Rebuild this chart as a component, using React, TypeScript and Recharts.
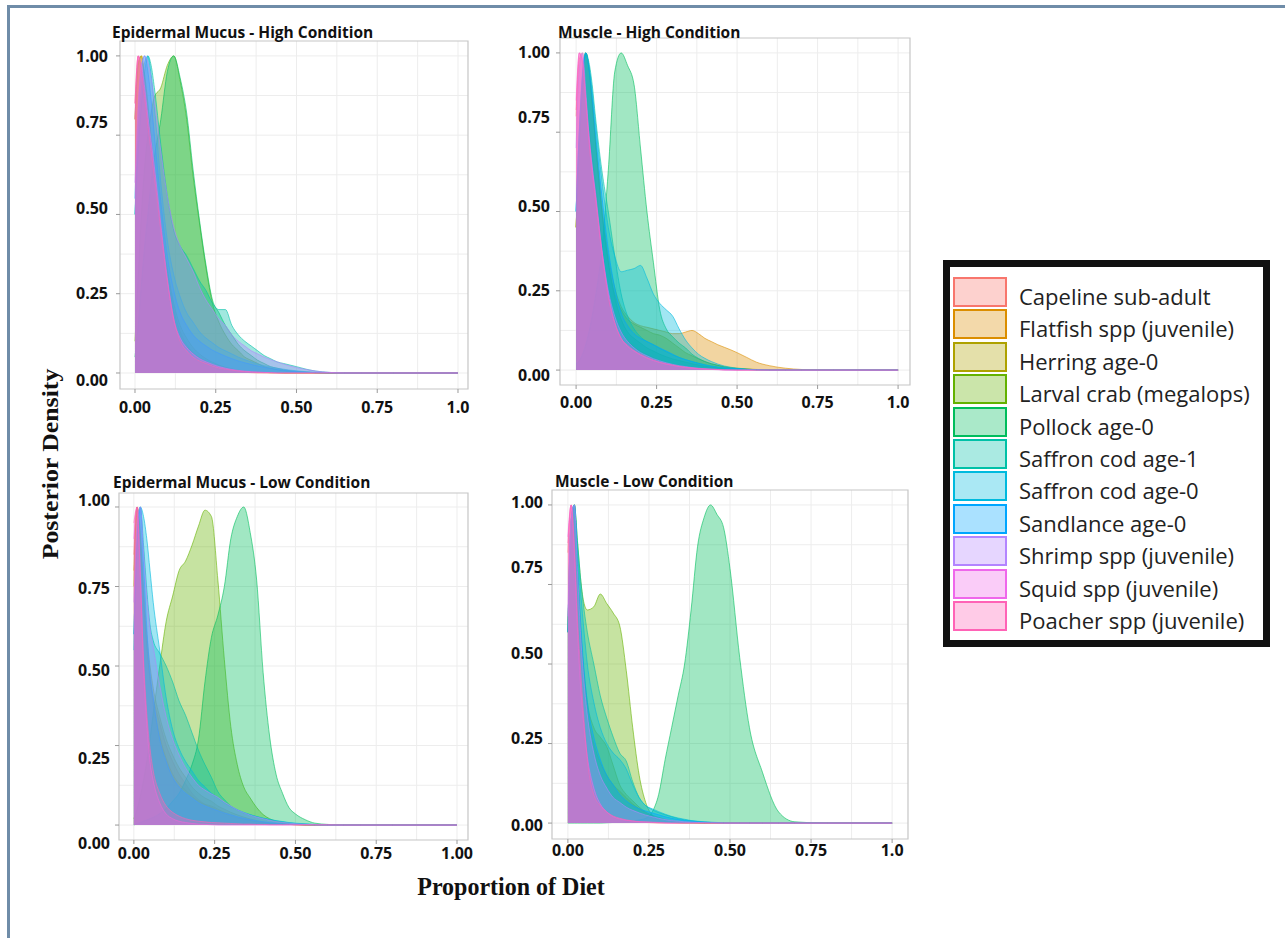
import React from 'react'
import { AreaChart, Area, XAxis, YAxis, CartesianGrid, ReferenceArea } from 'recharts'

// prey sources, in plotting order (last one is drawn on top)
const species = [
  'Capeline sub-adult',
  'Flatfish spp (juvenile)',
  'Herring age-0',
  'Larval crab (megalops)',
  'Pollock age-0',
  'Saffron cod age-1',
  'Saffron cod age-0',
  'Sandlance age-0',
  'Shrimp spp (juvenile)',
  'Squid spp (juvenile)',
  'Poacher spp (juvenile)',
]
const speciesColors = ['#F8766D', '#DB8E00', '#AEA200', '#64B200', '#00BD5C', '#00C1A7', '#00BADE', '#00A6FF', '#B385FF', '#EF67EB', '#FF63B6']

// proportion of diet (x) where the scaled densities were read
const xs = [
  0, 0.01, 0.02, 0.03, 0.04, 0.05, 0.06,
  0.08, 0.1, 0.12, 0.14, 0.16, 0.18, 0.2,
  0.22, 0.24, 0.26, 0.28, 0.3,
  0.32, 0.34, 0.36, 0.38, 0.4,
  0.42, 0.44, 0.46, 0.48, 0.5,
  0.53, 0.56, 0.6, 0.65, 0.7,
  0.8, 1,
]

const xTicks = [0, 0.25, 0.5, 0.75, 1]
const yTicks = [0, 0.25, 0.5, 0.75, 1]
const yTickLabels = ['0.00', '0.25', '0.50', '0.75', '1.00']
const xTickLabelsShort = ['0.00', '0.25', '0.50', '0.75', '1.0']
const xTickLabelsLong = ['0.00', '0.25', '0.50', '0.75', '1.00']
const gridSteps = [0, 0.125, 0.25, 0.375, 0.5, 0.625, 0.75, 0.875, 1]

// Epidermal mucus - high condition (one row per species, same order as `species`)
const mucusHigh = [
  [0.85, 1, 0.96, 0.86, 0.76, 0.66, 0.56, 0.4, 0.27, 0.17, 0.11, 0.07, 0.05, 0.035, 0.025, 0.018, 0.012, 0.008, 0.005, 0.003, 0.002, 0.001, 0, 0, 0, 0, 0, 0, 0, 0, 0, 0, 0, 0, 0, 0],
  [0.8, 0.98, 1, 0.92, 0.82, 0.72, 0.62, 0.45, 0.31, 0.2, 0.13, 0.09, 0.065, 0.048, 0.036, 0.027, 0.02, 0.015, 0.011, 0.008, 0.006, 0.004, 0.003, 0.002, 0.001, 0.001, 0, 0, 0, 0, 0, 0, 0, 0, 0, 0],
  [0.8, 0.97, 1, 0.94, 0.85, 0.74, 0.64, 0.47, 0.33, 0.22, 0.15, 0.11, 0.08, 0.06, 0.045, 0.034, 0.025, 0.018, 0.013, 0.009, 0.006, 0.004, 0.003, 0.002, 0.001, 0.001, 0, 0, 0, 0, 0, 0, 0, 0, 0, 0],
  [0.1, 0.3, 0.5, 0.65, 0.75, 0.82, 0.87, 0.9, 0.97, 1, 0.92, 0.8, 0.62, 0.47, 0.33, 0.22, 0.16, 0.12, 0.09, 0.07, 0.05, 0.04, 0.03, 0.02, 0.015, 0.01, 0.007, 0.005, 0.003, 0.002, 0.001, 0, 0, 0, 0, 0],
  [0.05, 0.15, 0.28, 0.4, 0.5, 0.6, 0.68, 0.8, 0.95, 1, 0.93, 0.82, 0.64, 0.48, 0.34, 0.23, 0.19, 0.15, 0.12, 0.09, 0.07, 0.055, 0.04, 0.03, 0.02, 0.015, 0.01, 0.007, 0.005, 0.003, 0.001, 0, 0, 0, 0, 0],
  [0.5, 0.7, 0.85, 0.95, 1, 0.97, 0.9, 0.72, 0.56, 0.45, 0.4, 0.37, 0.33, 0.29, 0.26, 0.22, 0.2, 0.2, 0.15, 0.12, 0.1, 0.085, 0.07, 0.055, 0.045, 0.035, 0.03, 0.025, 0.02, 0.012, 0.006, 0.002, 0, 0, 0, 0],
  [0.5, 0.75, 0.9, 0.98, 1, 0.94, 0.84, 0.6, 0.42, 0.31, 0.24, 0.19, 0.16, 0.13, 0.11, 0.095, 0.08, 0.07, 0.06, 0.05, 0.042, 0.035, 0.028, 0.023, 0.019, 0.015, 0.012, 0.009, 0.007, 0.004, 0.002, 0.001, 0, 0, 0, 0],
  [0.55, 0.82, 0.96, 1, 0.95, 0.86, 0.75, 0.54, 0.37, 0.26, 0.19, 0.15, 0.12, 0.1, 0.085, 0.072, 0.062, 0.053, 0.045, 0.038, 0.032, 0.027, 0.022, 0.018, 0.014, 0.011, 0.008, 0.006, 0.004, 0.002, 0.001, 0, 0, 0, 0, 0],
  [0.6, 0.85, 0.97, 1, 0.98, 0.93, 0.86, 0.7, 0.56, 0.46, 0.4, 0.36, 0.32, 0.27, 0.23, 0.2, 0.17, 0.15, 0.12, 0.1, 0.085, 0.07, 0.06, 0.05, 0.042, 0.035, 0.028, 0.022, 0.017, 0.011, 0.006, 0.002, 0, 0, 0, 0],
  [0.8, 1, 0.97, 0.9, 0.81, 0.73, 0.65, 0.47, 0.3, 0.17, 0.11, 0.08, 0.06, 0.045, 0.035, 0.027, 0.02, 0.015, 0.011, 0.008, 0.006, 0.004, 0.003, 0.002, 0.001, 0, 0, 0, 0, 0, 0, 0, 0, 0, 0, 0],
  [0.85, 1, 0.95, 0.87, 0.78, 0.7, 0.62, 0.45, 0.29, 0.17, 0.1, 0.07, 0.05, 0.038, 0.03, 0.022, 0.016, 0.012, 0.009, 0.006, 0.004, 0.003, 0.002, 0.001, 0.001, 0, 0, 0, 0, 0, 0, 0, 0, 0, 0, 0],
]

// Muscle - high condition
const muscleHigh = [
  [0.8, 0.98, 1, 0.9, 0.78, 0.68, 0.6, 0.4, 0.25, 0.16, 0.12, 0.095, 0.075, 0.06, 0.05, 0.04, 0.032, 0.025, 0.02, 0.016, 0.012, 0.009, 0.006, 0.004, 0.003, 0.002, 0.001, 0.001, 0, 0, 0, 0, 0, 0, 0, 0],
  [0.45, 0.7, 0.9, 1, 0.95, 0.85, 0.73, 0.52, 0.36, 0.26, 0.2, 0.17, 0.15, 0.14, 0.135, 0.13, 0.125, 0.12, 0.115, 0.115, 0.12, 0.125, 0.115, 0.1, 0.09, 0.08, 0.072, 0.064, 0.055, 0.04, 0.025, 0.014, 0.006, 0.002, 0, 0],
  [0.45, 0.7, 0.9, 1, 0.95, 0.84, 0.72, 0.5, 0.34, 0.24, 0.19, 0.16, 0.145, 0.135, 0.125, 0.115, 0.11, 0.1, 0.085, 0.07, 0.055, 0.045, 0.035, 0.027, 0.02, 0.015, 0.011, 0.008, 0.006, 0.004, 0.002, 0.001, 0, 0, 0, 0],
  [0.45, 0.7, 0.9, 1, 0.95, 0.84, 0.72, 0.5, 0.34, 0.23, 0.16, 0.12, 0.1, 0.085, 0.07, 0.06, 0.05, 0.042, 0.035, 0.03, 0.025, 0.02, 0.016, 0.012, 0.009, 0.007, 0.005, 0.004, 0.003, 0.002, 0.001, 0, 0, 0, 0, 0],
  [0.02, 0.03, 0.05, 0.08, 0.12, 0.17, 0.23, 0.38, 0.63, 0.94, 1, 0.96, 0.9, 0.7, 0.5, 0.34, 0.19, 0.13, 0.105, 0.085, 0.07, 0.05, 0.037, 0.027, 0.02, 0.015, 0.01, 0.007, 0.005, 0.003, 0.001, 0, 0, 0, 0, 0],
  [0.5, 0.75, 0.93, 1, 0.97, 0.9, 0.8, 0.63, 0.5, 0.36, 0.24, 0.17, 0.13, 0.105, 0.09, 0.08, 0.068, 0.058, 0.048, 0.04, 0.033, 0.027, 0.022, 0.017, 0.013, 0.01, 0.007, 0.005, 0.004, 0.002, 0.001, 0, 0, 0, 0, 0],
  [0.5, 0.75, 0.92, 1, 0.96, 0.88, 0.78, 0.6, 0.45, 0.36, 0.31, 0.315, 0.32, 0.33, 0.29, 0.24, 0.21, 0.19, 0.17, 0.13, 0.095, 0.07, 0.05, 0.037, 0.027, 0.019, 0.013, 0.009, 0.006, 0.003, 0.001, 0, 0, 0, 0, 0],
  [0.5, 0.76, 0.94, 1, 0.95, 0.86, 0.75, 0.55, 0.38, 0.26, 0.18, 0.14, 0.115, 0.1, 0.09, 0.08, 0.07, 0.06, 0.05, 0.04, 0.033, 0.027, 0.021, 0.016, 0.012, 0.009, 0.007, 0.005, 0.004, 0.002, 0.001, 0, 0, 0, 0, 0],
  [0.7, 0.95, 1, 0.88, 0.74, 0.64, 0.55, 0.38, 0.25, 0.17, 0.12, 0.09, 0.07, 0.055, 0.045, 0.036, 0.029, 0.023, 0.018, 0.014, 0.011, 0.008, 0.006, 0.004, 0.003, 0.002, 0.001, 0, 0, 0, 0, 0, 0, 0, 0, 0],
  [0.85, 1, 0.98, 0.86, 0.74, 0.64, 0.56, 0.38, 0.24, 0.15, 0.1, 0.075, 0.06, 0.048, 0.038, 0.03, 0.024, 0.019, 0.015, 0.011, 0.008, 0.006, 0.004, 0.003, 0.002, 0.001, 0, 0, 0, 0, 0, 0, 0, 0, 0, 0],
  [0.82, 1, 0.97, 0.85, 0.72, 0.62, 0.54, 0.37, 0.23, 0.15, 0.1, 0.078, 0.062, 0.05, 0.04, 0.032, 0.025, 0.02, 0.016, 0.012, 0.009, 0.007, 0.005, 0.004, 0.003, 0.002, 0.001, 0.001, 0, 0, 0, 0, 0, 0, 0, 0],
]

// Epidermal mucus - low condition
const mucusLow = [
  [0.85, 1, 0.88, 0.7, 0.56, 0.46, 0.4, 0.32, 0.25, 0.2, 0.16, 0.13, 0.1, 0.08, 0.065, 0.055, 0.045, 0.036, 0.028, 0.022, 0.017, 0.013, 0.01, 0.007, 0.005, 0.004, 0.003, 0.002, 0.001, 0, 0, 0, 0, 0, 0, 0],
  [0.8, 1, 0.9, 0.72, 0.57, 0.46, 0.38, 0.28, 0.21, 0.16, 0.13, 0.11, 0.09, 0.075, 0.065, 0.06, 0.05, 0.04, 0.033, 0.026, 0.02, 0.015, 0.011, 0.008, 0.006, 0.004, 0.003, 0.002, 0.001, 0, 0, 0, 0, 0, 0, 0],
  [0.75, 1, 0.92, 0.75, 0.6, 0.5, 0.43, 0.34, 0.27, 0.22, 0.18, 0.15, 0.12, 0.1, 0.085, 0.075, 0.06, 0.05, 0.04, 0.032, 0.025, 0.019, 0.014, 0.01, 0.007, 0.005, 0.003, 0.002, 0.001, 0, 0, 0, 0, 0, 0, 0],
  [0.02, 0.05, 0.09, 0.14, 0.2, 0.27, 0.35, 0.5, 0.64, 0.72, 0.8, 0.83, 0.88, 0.94, 0.99, 0.97, 0.77, 0.52, 0.31, 0.19, 0.12, 0.085, 0.055, 0.033, 0.02, 0.012, 0.007, 0.004, 0.002, 0.001, 0, 0, 0, 0, 0, 0],
  [0, 0.005, 0.008, 0.012, 0.016, 0.02, 0.024, 0.036, 0.052, 0.075, 0.1, 0.14, 0.19, 0.27, 0.45, 0.59, 0.66, 0.75, 0.9, 0.97, 1, 0.92, 0.77, 0.48, 0.28, 0.16, 0.1, 0.055, 0.035, 0.017, 0.006, 0.002, 0, 0, 0, 0],
  [0.6, 0.9, 1, 0.88, 0.74, 0.63, 0.58, 0.54, 0.5, 0.45, 0.39, 0.345, 0.29, 0.235, 0.19, 0.15, 0.105, 0.08, 0.06, 0.048, 0.038, 0.032, 0.026, 0.021, 0.017, 0.013, 0.01, 0.007, 0.005, 0.003, 0.001, 0, 0, 0, 0, 0],
  [0.55, 0.88, 1, 0.97, 0.9, 0.8, 0.7, 0.55, 0.4, 0.3, 0.24, 0.2, 0.17, 0.14, 0.12, 0.1, 0.085, 0.07, 0.058, 0.048, 0.04, 0.033, 0.027, 0.022, 0.018, 0.014, 0.011, 0.008, 0.006, 0.004, 0.002, 0.001, 0, 0, 0, 0],
  [0.6, 0.9, 1, 0.82, 0.62, 0.48, 0.4, 0.27, 0.2, 0.15, 0.12, 0.1, 0.085, 0.07, 0.06, 0.052, 0.045, 0.038, 0.032, 0.026, 0.021, 0.017, 0.013, 0.01, 0.008, 0.006, 0.004, 0.003, 0.002, 0.001, 0, 0, 0, 0, 0, 0],
  [0.7, 0.95, 1, 0.86, 0.72, 0.62, 0.56, 0.44, 0.34, 0.27, 0.22, 0.18, 0.15, 0.125, 0.11, 0.098, 0.087, 0.072, 0.06, 0.048, 0.039, 0.031, 0.025, 0.02, 0.015, 0.011, 0.008, 0.006, 0.004, 0.002, 0.001, 0, 0, 0, 0, 0],
  [0.9, 1, 0.8, 0.5, 0.32, 0.2, 0.14, 0.07, 0.035, 0.02, 0.012, 0.008, 0.005, 0.003, 0.002, 0.001, 0, 0, 0, 0, 0, 0, 0, 0, 0, 0, 0, 0, 0, 0, 0, 0, 0, 0, 0, 0],
  [0.95, 1, 0.78, 0.52, 0.35, 0.24, 0.17, 0.1, 0.06, 0.04, 0.028, 0.02, 0.015, 0.012, 0.01, 0.008, 0.007, 0.006, 0.005, 0.004, 0.003, 0.003, 0.002, 0.002, 0.001, 0.001, 0.001, 0.001, 0.001, 0.001, 0.001, 0.001, 0, 0, 0, 0],
]

// Muscle - low condition
const muscleLow = [
  [0.85, 1, 0.9, 0.64, 0.46, 0.32, 0.22, 0.1, 0.055, 0.03, 0.018, 0.012, 0.008, 0.005, 0.003, 0.002, 0.001, 0, 0, 0, 0, 0, 0, 0, 0, 0, 0, 0, 0, 0, 0, 0, 0, 0, 0, 0],
  [0.6, 0.93, 1, 0.78, 0.58, 0.44, 0.35, 0.25, 0.19, 0.15, 0.12, 0.1, 0.08, 0.06, 0.045, 0.032, 0.022, 0.015, 0.01, 0.007, 0.004, 0.003, 0.002, 0.001, 0, 0, 0, 0, 0, 0, 0, 0, 0, 0, 0, 0],
  [0.6, 0.93, 1, 0.8, 0.6, 0.47, 0.38, 0.3, 0.27, 0.24, 0.18, 0.12, 0.09, 0.07, 0.05, 0.035, 0.025, 0.018, 0.012, 0.008, 0.005, 0.003, 0.002, 0.001, 0, 0, 0, 0, 0, 0, 0, 0, 0, 0, 0, 0],
  [0.6, 0.95, 1, 0.88, 0.76, 0.69, 0.67, 0.68, 0.72, 0.69, 0.66, 0.62, 0.48, 0.3, 0.15, 0.065, 0.025, 0.01, 0.005, 0.002, 0.001, 0, 0, 0, 0, 0, 0, 0, 0, 0, 0, 0, 0, 0, 0, 0],
  [0, 0, 0, 0, 0, 0, 0, 0, 0, 0.001, 0.002, 0.003, 0.004, 0.006, 0.01, 0.015, 0.035, 0.09, 0.2, 0.3, 0.4, 0.5, 0.67, 0.87, 0.96, 1, 0.97, 0.93, 0.8, 0.52, 0.3, 0.16, 0.035, 0.004, 0, 0],
  [0.6, 0.95, 1, 0.88, 0.76, 0.67, 0.6, 0.5, 0.4, 0.33, 0.27, 0.22, 0.195, 0.13, 0.08, 0.055, 0.042, 0.033, 0.026, 0.02, 0.014, 0.01, 0.007, 0.005, 0.003, 0.002, 0.001, 0, 0, 0, 0, 0, 0, 0, 0, 0],
  [0.6, 0.95, 1, 0.85, 0.72, 0.6, 0.5, 0.38, 0.3, 0.25, 0.22, 0.2, 0.17, 0.12, 0.08, 0.055, 0.045, 0.036, 0.028, 0.021, 0.016, 0.012, 0.008, 0.006, 0.004, 0.003, 0.002, 0.001, 0, 0, 0, 0, 0, 0, 0, 0],
  [0.6, 0.95, 1, 0.8, 0.62, 0.48, 0.38, 0.27, 0.2, 0.15, 0.12, 0.09, 0.07, 0.055, 0.045, 0.038, 0.032, 0.026, 0.02, 0.015, 0.011, 0.008, 0.006, 0.004, 0.003, 0.002, 0.001, 0, 0, 0, 0, 0, 0, 0, 0, 0],
  [0.65, 0.96, 1, 0.78, 0.58, 0.44, 0.34, 0.22, 0.15, 0.11, 0.08, 0.065, 0.05, 0.04, 0.032, 0.025, 0.02, 0.015, 0.011, 0.008, 0.006, 0.004, 0.003, 0.002, 0.001, 0, 0, 0, 0, 0, 0, 0, 0, 0, 0, 0],
  [0.9, 1, 0.85, 0.6, 0.42, 0.3, 0.21, 0.11, 0.06, 0.035, 0.02, 0.013, 0.009, 0.006, 0.004, 0.003, 0.002, 0.001, 0, 0, 0, 0, 0, 0, 0, 0, 0, 0, 0, 0, 0, 0, 0, 0, 0, 0],
  [0.88, 1, 0.88, 0.64, 0.47, 0.32, 0.2, 0.09, 0.055, 0.035, 0.022, 0.015, 0.01, 0.007, 0.005, 0.004, 0.003, 0.002, 0.001, 0, 0, 0, 0, 0, 0, 0, 0, 0, 0, 0, 0, 0, 0, 0, 0, 0],
]

const tickFont = '"Open Sans", "Noto Sans", sans-serif'
const serifFont = '"Liberation Serif", "Times New Roman", serif'
const Y_AXIS_W = 60
const X_AXIS_H = 30
const M_TOP = 14
const M_RIGHT = 20
const M_BOTTOM = 4

type Panel = {
  title: string
  series: number[][]
  box: { x: number; y: number; w: number; h: number }
  xDomain: [number, number]
  yDomain: [number, number]
  xLabels: string[]
  yShift: number[]
  yGap: number
  xGap: number
  titlePos: [number, number]
}

const panels: Panel[] = [
  {
    title: 'Epidermal Mucus - High Condition', series: mucusHigh,
    box: { x: 120, y: 41, w: 348, h: 348 }, xDomain: [-0.0464, 1.031], yDomain: [-0.0505, 1.047],
    xLabels: xTickLabelsShort, yShift: [7, -1, -6, -13, 0], yGap: 12, xGap: 18, titlePos: [112, 24],
  },
  {
    title: 'Muscle - High Condition', series: muscleHigh,
    box: { x: 560, y: 38, w: 350, h: 347 }, xDomain: [-0.05, 1.037], yDomain: [-0.047, 1.047],
    xLabels: xTickLabelsShort, yShift: [5, -1, -6, -15, -1], yGap: 10, xGap: 17, titlePos: [558, 24],
  },
  {
    title: 'Epidermal Mucus - Low Condition', series: mucusLow,
    box: { x: 119, y: 493, w: 349, h: 347 }, xDomain: [-0.046, 1.034], yDomain: [-0.047, 1.044],
    xLabels: xTickLabelsLong, yShift: [18, 12, 4, 1, -7], yGap: 9, xGap: 13, titlePos: [113, 474],
  },
  {
    title: 'Muscle - Low Condition', series: muscleLow,
    box: { x: 552, y: 490, w: 356, h: 349 }, xDomain: [-0.049, 1.049], yDomain: [-0.05, 1.047],
    xLabels: xTickLabelsShort, yShift: [2, -6, -11, -17, -3], yGap: 9, xGap: 11, titlePos: [555, 473],
  },
]

function DensityPanel({ p }: { p: Panel }) {
  const rows = xs.map((x, i) => {
    const r: Record<string, number> = { x }
    p.series.forEach((s, k) => { r['s' + k] = s[i] ?? 0 })
    return r
  })

  const renderYTick = (props: any) => {
    const idx = yTicks.indexOf(props.payload.value)
    return (
      <text x={props.x} y={props.y + (p.yShift[idx] || 0)} textAnchor="end" dominantBaseline="central"
        fontFamily={tickFont} fontSize={16} fontWeight={700} fill="#111">
        {yTickLabels[idx]}
      </text>
    )
  }
  const renderXTick = (props: any) => {
    const idx = xTicks.indexOf(props.payload.value)
    return (
      <text x={props.x} y={props.y} textAnchor="middle" dominantBaseline="central"
        fontFamily={tickFont} fontSize={16} fontWeight={700} fill="#111">
        {p.xLabels[idx]}
      </text>
    )
  }

  return (
    <>
      <div style={{ position: 'absolute', left: p.box.x - Y_AXIS_W, top: p.box.y - M_TOP }}>
        <AreaChart width={p.box.w + Y_AXIS_W + M_RIGHT} height={p.box.h + X_AXIS_H + M_TOP + M_BOTTOM} data={rows}
          margin={{ top: M_TOP, right: M_RIGHT, left: 0, bottom: M_BOTTOM }}>
          <CartesianGrid stroke="#ededed" horizontalValues={gridSteps} verticalValues={gridSteps} />
          <XAxis dataKey="x" type="number" domain={p.xDomain} allowDataOverflow ticks={xTicks} interval={0}
            height={X_AXIS_H} axisLine={false} tickLine={{ stroke: '#9a9a9a' }} tickSize={4}
            tickMargin={p.xGap - 4} tick={renderXTick} />
          <YAxis type="number" domain={p.yDomain} allowDataOverflow ticks={yTicks} interval={0}
            width={Y_AXIS_W} axisLine={false} tickLine={{ stroke: '#9a9a9a' }} tickSize={4}
            tickMargin={p.yGap - 4} tick={renderYTick} />
          {species.map((name, k) => (
            <Area key={name} name={name} type="monotone" dataKey={'s' + k}
              fill={speciesColors[k]} fillOpacity={0.37}
              stroke={speciesColors[k]} strokeOpacity={0.75} strokeWidth={0.8}
              dot={false} activeDot={false} isAnimationActive={false} />
          ))}
          <ReferenceArea x1={p.xDomain[0]} x2={p.xDomain[1]} y1={p.yDomain[0]} y2={p.yDomain[1]}
            fill="none" stroke="#c6c6c6" strokeWidth={1.2} fillOpacity={0} />
        </AreaChart>
      </div>
      <div style={{
        position: 'absolute', left: p.titlePos[0], top: p.titlePos[1], fontFamily: tickFont,
        fontWeight: 700, fontSize: 15.5, lineHeight: '16px', color: '#111', whiteSpace: 'nowrap',
      }}>
        {p.title}
      </div>
    </>
  )
}

function SpeciesLegend() {
  return (
    <div style={{
      position: 'absolute', left: 943, top: 260, width: 327, height: 387, boxSizing: 'border-box',
      border: '7px solid #111', background: '#fff',
    }}>
      {species.map((name, k) => (
        <div key={name} style={{ position: 'absolute', left: 3, top: 10 + k * 32.4, height: 30, display: 'flex', alignItems: 'center' }}>
          <div style={{
            width: 50, height: 26, border: `2px solid ${speciesColors[k]}`,
            background: speciesColors[k] + '55',
          }} />
          <span style={{
            marginLeft: 12, fontFamily: tickFont, fontSize: 22, position: 'relative', top: 4,
            color: '#222', whiteSpace: 'nowrap', lineHeight: '30px',
          }}>
            {name}
          </span>
        </div>
      ))}
    </div>
  )
}

export default function App() {
  return (
    <div style={{ position: 'absolute', left: 0, top: 0, width: 1285, height: 938, background: '#fff', overflow: 'hidden' }}>
      <div style={{
        position: 'absolute', left: 7, top: 5, width: 1300, height: 960,
        borderTop: '3px solid #6f8ca8', borderLeft: '3px solid #6f8ca8',
      }} />
      {panels.map((p) => <DensityPanel key={p.title} p={p} />)}
      <SpeciesLegend />
      <div style={{
        position: 'absolute', left: 51, top: 464, transform: 'translate(-50%, -50%) rotate(-90deg) scaleX(1.12)',
        fontFamily: serifFont, fontWeight: 700, fontSize: 23, whiteSpace: 'nowrap', color: '#111',
      }}>
        Posterior Density
      </div>
      <div style={{
        position: 'absolute', left: 511, top: 887, transform: 'translate(-50%, -50%) scaleX(0.96)',
        fontFamily: serifFont, fontWeight: 700, fontSize: 25, whiteSpace: 'nowrap', color: '#111',
      }}>
        Proportion of Diet
      </div>
    </div>
  )
}
